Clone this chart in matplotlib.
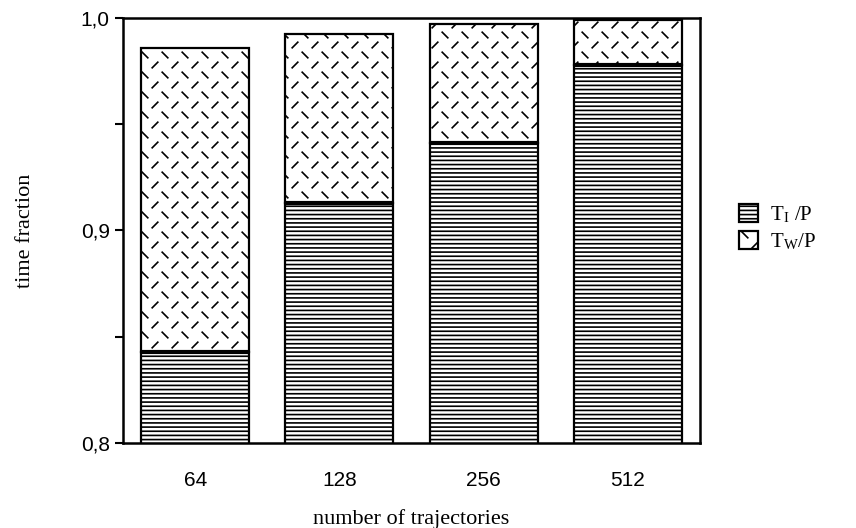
import numpy as np
import matplotlib
matplotlib.use("Agg")
import matplotlib.pyplot as plt
from matplotlib import hatch as mhatch
from matplotlib.path import Path

# data
trajectories = ["64", "128", "256", "512"]
t_i = [0.843, 0.913, 0.941, 0.978]      # T_I / P (top of the lined part)
t_total = [0.986, 0.9925, 0.997, 0.999]  # top of the bar (T_I + T_W) / P
t_w = [b - a for a, b in zip(t_i, t_total)]


# short alternating "\" and "/" dashes, used for the '*' hatch
class DashHatch(mhatch.HatchPatternBase):
    def __init__(self, hatch, density):
        self.n = 5 if '*' in hatch else 0
        self.num_vertices = self.n * self.n * 4

    def set_vertices_and_codes(self, vertices, codes):
        c = 1.0 / self.n
        d = 0.14 * c
        k = 0
        for i in range(self.n):
            for j in range(self.n):
                x0, y0 = i * c, j * c
                cx, cy = x0 + 0.25 * c, y0 + 0.25 * c
                vertices[k:k + 2] = [(cx - d, cy + d), (cx + d, cy - d)]
                cx, cy = x0 + 0.75 * c, y0 + 0.75 * c
                vertices[k + 2:k + 4] = [(cx - d, cy - d), (cx + d, cy + d)]
                k += 4
        codes[0::2] = Path.MOVETO
        codes[1::2] = Path.LINETO


mhatch._hatch_types = [t for t in mhatch._hatch_types if t is not mhatch.Stars] + [DashHatch]

plt.rcParams["hatch.linewidth"] = 1.2
plt.rcParams["mathtext.fontset"] = "stix"

fig = plt.figure(figsize=(8.56, 5.28), dpi=100)
ax = fig.add_axes([0.1437, 0.161, 0.6741, 0.805])

x = np.arange(len(trajectories))
w = 0.75
ax.bar(x, t_i, w, color="white", edgecolor="black", linewidth=1.6,
       hatch="----", label=r"T$_\mathregular{I}$ /P")
ax.bar(x, t_w, w, bottom=t_i, color="white", edgecolor="black", linewidth=1.6,
       hatch="*", label=r"T$_\mathregular{W}$/P")
ax.hlines(t_i, x - w / 2, x + w / 2, color="black", linewidth=3)

ax.set_xlim(-0.5, 3.5)
ax.set_ylim(0.8, 1.0)
ax.set_xticks(x)
ax.set_xticklabels(trajectories, family="Liberation Sans", fontsize=15)
ax.tick_params(axis="x", length=0, pad=20)
ax.set_yticks([0.8, 0.9, 1.0])
ax.set_yticklabels(["0,8", "0,9", "1,0"], family="Liberation Sans", fontsize=15)
ax.set_yticks([0.85, 0.95], minor=True)
ax.tick_params(axis="y", which="both", direction="out", length=6, width=1.5)

for s in ax.spines.values():
    s.set_linewidth(1.8)

ax.set_xlabel("number of trajectories", family="Liberation Serif", fontsize=16, labelpad=14)
ax.set_ylabel("time fraction", family="Liberation Serif", fontsize=16, labelpad=33)

ax.legend(loc="center left", bbox_to_anchor=(1.035, 0.505), frameon=False,
          prop={"family": "Liberation Serif", "size": 15},
          handlelength=0.9, handleheight=0.9, handletextpad=0.6, labelspacing=0.3)

fig.savefig("out.png", dpi=100)
